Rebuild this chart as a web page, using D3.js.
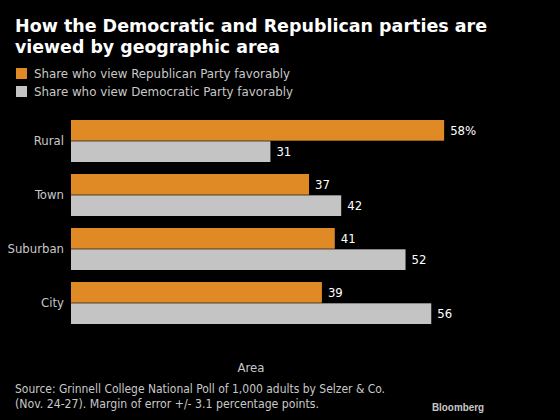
<!DOCTYPE html>
<html><head><meta charset="utf-8">
<script src="https://cdn.jsdelivr.net/npm/d3@7"></script>
<style>body{margin:0;background:#000}svg{display:block}</style>
</head><body>
<script>
const categories = ["Rural", "Town", "Suburban", "City"];
const republican = [58, 37, 41, 39];
const democratic = [31, 42, 52, 56];
const seriesNames = ["Share who view Republican Party favorably", "Share who view Democratic Party favorably"];
const colors = ["#e08a26", "#c4c4c4"];

const W = 560, H = 420;
const svg = d3.select("body").append("svg").attr("width", W).attr("height", H).style("background", "#000");
const font = "'DejaVu Sans Condensed', 'DejaVu Sans', sans-serif";

// Title
const title = svg.append("text").attr("fill", "#fff").attr("font-family", "'DejaVu Sans', sans-serif").attr("font-weight", "bold").attr("font-size", 18);
title.append("tspan").attr("x", 15).attr("y", 32).attr("textLength", 472).attr("lengthAdjust", "spacingAndGlyphs").text("How the Democratic and Republican parties are");
title.append("tspan").attr("x", 15).attr("y", 53).attr("textLength", 265).attr("lengthAdjust", "spacingAndGlyphs").text("viewed by geographic area");

// Legend
const legendWidths = [256, 259];
seriesNames.forEach((n, i) => {
  const y = 68 + i * 18;
  svg.append("rect").attr("x", 16).attr("y", y).attr("width", 11).attr("height", 11).attr("fill", colors[i]);
  svg.append("text").attr("x", 34).attr("y", y + 10).attr("fill", "#c8c8c8").attr("font-family", font).attr("font-size", 13)
    .attr("textLength", legendWidths[i]).attr("lengthAdjust", "spacingAndGlyphs").text(n);
});

// Scales
const x = d3.scaleLinear().domain([0, 60]).range([71, 71 + 386]);
const y0 = d3.scaleBand().domain(categories).range([120, 324]).paddingInner(12 / 54).paddingOuter(0);
const y1 = d3.scaleBand().domain([0, 1]).range([0, y0.bandwidth()]).paddingInner(0.03);

const data = categories.map((c, i) => ({ cat: c, vals: [republican[i], democratic[i]] }));

const g = svg.append("g");
const groups = g.selectAll("g.grp").data(data).join("g").attr("class", "grp").attr("transform", d => `translate(0,${y0(d.cat)})`);
groups.selectAll("rect").data(d => d.vals.map((v, k) => ({ v, k }))).join("rect")
  .attr("x", x(0)).attr("y", d => y1(d.k)).attr("width", d => x(d.v) - x(0)).attr("height", y1.bandwidth())
  .attr("fill", d => colors[d.k]);
groups.selectAll("text.val").data((d, i) => d.vals.map((v, k) => ({ v, k, first: i === 0 && k === 0 }))).join("text")
  .attr("class", "val").attr("x", d => x(d.v) + 6).attr("y", d => y1(d.k) + y1.bandwidth() / 2 + 4.5)
  .attr("fill", "#fff").attr("font-family", font).attr("font-size", 13)
  .text(d => d.v + (d.first ? "%" : ""));

// Category axis
const yAxis = d3.axisLeft(y0).tickSize(0).tickPadding(7);
const ax = svg.append("g").attr("transform", `translate(${x(0)},0)`).call(yAxis);
ax.select(".domain").remove();
ax.selectAll("text").attr("fill", "#c8c8c8").attr("font-family", font).attr("font-size", 13);

// Axis title
svg.append("text").attr("x", 251).attr("y", 372).attr("text-anchor", "middle").attr("fill", "#c8c8c8")
  .attr("font-family", font).attr("font-size", 13).text("Area");

// Source
const src = svg.append("text").attr("fill", "#c8c8c8").attr("font-family", font).attr("font-size", 13);
src.append("tspan").attr("x", 15).attr("y", 393).attr("textLength", 370).attr("lengthAdjust", "spacingAndGlyphs").text("Source: Grinnell College National Poll of 1,000 adults by Selzer & Co.");
src.append("tspan").attr("x", 15).attr("y", 408).attr("textLength", 304).attr("lengthAdjust", "spacingAndGlyphs").text("(Nov. 24-27). Margin of error +/- 3.1 percentage points.");

svg.append("text").attr("x", 484).attr("y", 411).attr("text-anchor", "end").attr("fill", "#c8c8c8")
  .attr("font-family", "'Liberation Sans', Arial, sans-serif").attr("font-weight", "bold").attr("font-size", 11.5)
  .attr("textLength", 52).attr("lengthAdjust", "spacingAndGlyphs").text("Bloomberg");
</script>
</body></html>
